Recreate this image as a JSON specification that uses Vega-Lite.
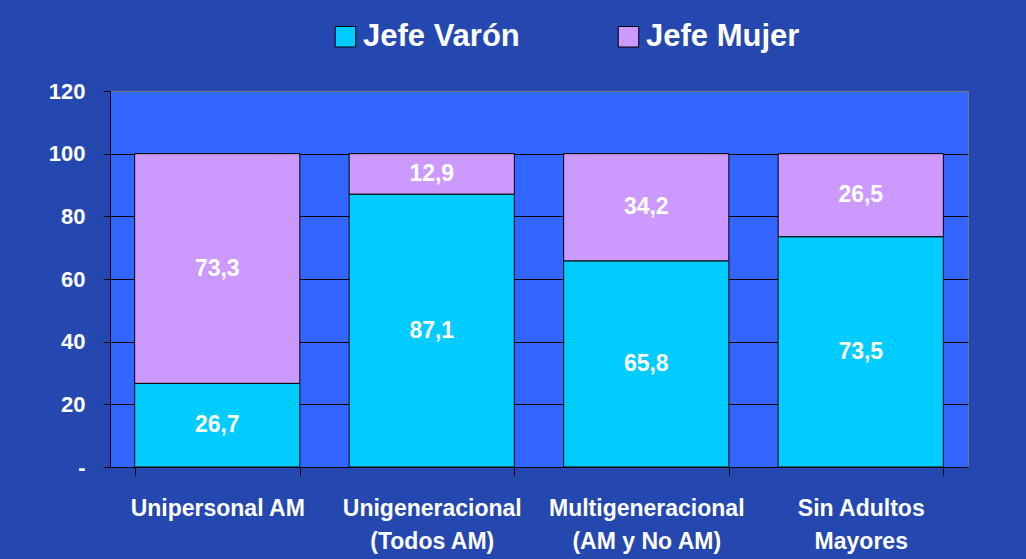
{
  "$schema": "https://vega.github.io/schema/vega-lite/v6.json",
  "width": 858,
  "height": 376,
  "autosize": "none",
  "padding": {"left": 110, "top": 91, "right": 58, "bottom": 92},
  "background": "#2547b0",
  "config": {
    "locale": {"number": {"decimal": ",", "thousands": ".", "grouping": [3], "currency": ["", ""]}},
    "view": {"fill": "#3366FF", "stroke": "#777777", "strokeWidth": 1},
    "font": "Liberation Sans"
  },
  "data": {
    "values": [
      {"tipo": "Unipersonal AM", "serie": "Jefe Varón", "valor": 26.7},
      {"tipo": "Unipersonal AM", "serie": "Jefe Mujer", "valor": 73.3},
      {"tipo": "Unigeneracional|(Todos AM)", "serie": "Jefe Varón", "valor": 87.1},
      {"tipo": "Unigeneracional|(Todos AM)", "serie": "Jefe Mujer", "valor": 12.9},
      {"tipo": "Multigeneracional|(AM y No AM)", "serie": "Jefe Varón", "valor": 65.8},
      {"tipo": "Multigeneracional|(AM y No AM)", "serie": "Jefe Mujer", "valor": 34.2},
      {"tipo": "Sin Adultos|Mayores", "serie": "Jefe Varón", "valor": 73.5},
      {"tipo": "Sin Adultos|Mayores", "serie": "Jefe Mujer", "valor": 26.5}
    ]
  },
  "encoding": {
    "x": {
      "field": "tipo",
      "type": "nominal",
      "sort": null,
      "scale": {"paddingInner": 0.23, "paddingOuter": 0.115},
      "axis": {
        "title": null,
        "labelAngle": 0,
        "labelExpr": "split(datum.label, '|')",
        "labelFont": "Liberation Sans",
        "labelFontSize": 23,
        "labelFontWeight": "bold",
        "labelColor": "white",
        "labelLineHeight": 33,
        "labelPadding": 22,
        "labelLimit": 400,
        "tickBand": "extent",
        "tickSize": 8,
        "tickColor": "black",
        "domainColor": "black",
        "grid": false
      }
    }
  },
  "layer": [
    {
      "mark": {"type": "bar", "stroke": "black", "strokeWidth": 1},
      "encoding": {
        "y": {
          "field": "valor",
          "type": "quantitative",
          "stack": "zero",
          "scale": {"domain": [0, 120], "nice": false},
          "axis": {
            "title": null,
            "values": [0, 20, 40, 60, 80, 100, 120],
            "labelExpr": "datum.value == 0 ? '-\u00a0\u00a0\u00a0\u00a0' : datum.label",
            "labelFont": "Liberation Sans",
            "labelFontSize": 22,
            "labelFontWeight": "bold",
            "labelColor": "white",
            "labelPadding": 18,
            "tickSize": 7,
            "tickColor": "black",
            "domainColor": "black",
            "grid": true,
            "gridColor": {"condition": {"test": "datum.value == 120", "value": "#777777"}, "value": "black"},
            "gridOpacity": 1
          }
        },
        "color": {
          "field": "serie",
          "type": "nominal",
          "scale": {"domain": ["Jefe Varón", "Jefe Mujer"], "range": ["#00CCFF", "#CC99FF"]},
          "legend": {
            "title": null,
            "orient": "none",
            "direction": "horizontal",
            "legendX": 220,
            "legendY": -70,
            "padding": 0,
            "symbolType": "square",
            "symbolSize": 420,
            "symbolStrokeColor": "black",
            "symbolStrokeWidth": 1,
            "symbolOpacity": 1,
            "labelFont": "Liberation Sans",
            "labelFontSize": 31,
            "labelFontWeight": "bold",
            "labelColor": "white",
            "labelOffset": 2,
            "labelLimit": 300,
            "columnPadding": 93
          }
        },
        "order": {"field": "serie", "sort": "descending"}
      }
    },
    {
      "mark": {"type": "text", "color": "white", "fontSize": 23, "fontWeight": "bold", "font": "Liberation Sans", "baseline": "middle"},
      "encoding": {
        "y": {"field": "valor", "type": "quantitative", "stack": "zero", "bandPosition": 0.5},
        "detail": {"field": "serie"},
        "order": {"field": "serie", "sort": "descending"},
        "text": {"field": "valor", "type": "quantitative", "format": ".1f"}
      }
    }
  ]
}
